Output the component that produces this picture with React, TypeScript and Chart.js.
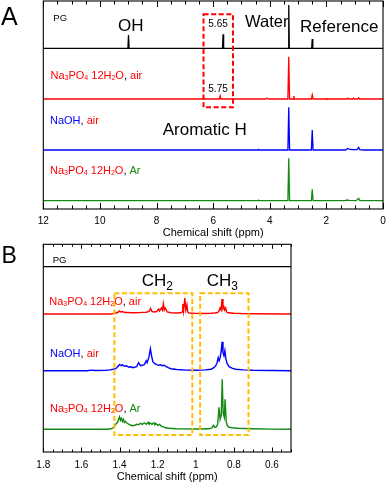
import React, { useEffect, useRef } from "react";
import { Chart, registerables } from "chart.js";
Chart.register(...registerables);

type Pt = [number, number];

// ---------- Panel A data (ppm, intensity) ----------
const ticksA = [12, 10, 8, 6, 4, 2, 0];
const offsetsA = [160.7, 110, 59, 8.3]; // PG, Na3PO4 air, NaOH air, Na3PO4 Ar
const pgA: Pt[] = [[12, 0], [9.01, 0], [8.99, 13.3], [8.97, 0], [5.67, 0], [5.65, 14], [5.63, 0], [3.35, 0], [3.33, 43.3], [3.31, 0], [2.52, 0], [2.5, 9.3], [2.48, 0], [0, 0]];
const redA: Pt[] = [[12, 0], [5.78, 0], [5.75, 3], [5.72, 0], [4.15, 0], [4.1, 0.8], [4.05, 0], [3.36, 0], [3.33, 42.3], [3.3, 0], [3.17, 0], [3.15, 3], [3.13, 0], [2.53, 0], [2.5, 4], [2.47, 0], [2.02, 0], [2.0, 0.5], [1.98, 0], [1.28, 0], [1.25, 0.9], [1.22, 0], [1.08, 0], [1.05, 0.9], [1.02, 0], [0.89, 0], [0.86, 1.1], [0.83, 0], [0, 0]];
const blueA: Pt[] = [[12, 0], [4.42, 0], [4.4, 0.6], [4.38, 0], [3.36, 0], [3.33, 42.7], [3.3, 0], [2.53, 0], [2.5, 20], [2.47, 0], [1.32, 0], [1.25, 1.5], [1.2, 0.8], [1.1, 0.3], [0.92, 0.4], [0.86, 2.5], [0.82, 0.3], [0.7, 0], [0, 0]];
const greenA: Pt[] = [[12, 0], [4.42, 0], [4.4, 0.5], [4.38, 0], [3.36, 0], [3.33, 42.4], [3.3, 0], [2.53, 0], [2.5, 11.4], [2.47, 0], [1.35, 0], [1.25, 0.7], [1.2, 0.4], [0.95, 0], [0.86, 2.4], [0.82, 0], [0, 0]];
const redBoxA: Pt[] = [[6.34, 194.7], [5.3, 101.7]];

// ---------- Panel B data ----------
const ticksB = [1.8, 1.6, 1.4, 1.2, 1.0, 0.8, 0.6];
const offsetsB = [185.3, 138, 81.3, 22.7];
const pgB: Pt[] = [[1.8, 0], [0.5, 0]];
const redB: Pt[] = [[1.8, 0], [1.45, 0], [1.43, 0.5], [1.41, 1.5], [1.4, 3], [1.395, 2], [1.39, 2.5], [1.38, 2], [1.37, 1.5], [1.36, 1.6], [1.34, 1.2], [1.32, 1.3], [1.3, 1.4], [1.28, 1.6], [1.26, 1.8], [1.245, 2.5], [1.237, 5.5], [1.23, 2.5], [1.22, 2], [1.205, 2.5], [1.195, 5], [1.19, 3], [1.18, 6], [1.175, 4], [1.17, 10.5], [1.165, 4], [1.16, 6], [1.15, 2], [1.13, 1.2], [1.1, 1], [1.08, 1.2], [1.072, 2], [1.068, 10], [1.064, 3], [1.057, 16], [1.052, 4], [1.046, 9], [1.042, 2], [1.035, 1], [1.0, 0.6], [0.95, 0.5], [0.92, 0.7], [0.9, 1], [0.885, 1.5], [0.878, 3], [0.872, 6], [0.867, 4], [0.862, 15], [0.857, 5], [0.852, 7], [0.848, 4], [0.843, 6], [0.838, 2], [0.83, 1.2], [0.8, 0.7], [0.75, 0.4], [0.7, 0.2], [0.5, 0]];
const blueB: Pt[] = [[1.8, 0], [1.57, 0], [1.55, 0.6], [1.53, 0.2], [1.47, 0.4], [1.45, 0.8], [1.42, 2], [1.41, 4], [1.4, 6], [1.39, 5], [1.385, 6], [1.375, 4.5], [1.365, 5], [1.35, 3.5], [1.34, 4], [1.33, 3], [1.31, 4], [1.3, 8], [1.29, 5], [1.28, 5.5], [1.27, 6], [1.26, 10], [1.255, 8], [1.245, 14], [1.238, 22], [1.232, 15], [1.225, 9], [1.215, 7], [1.205, 6], [1.195, 5.5], [1.185, 6], [1.175, 5], [1.165, 5.5], [1.155, 4], [1.145, 3], [1.13, 2], [1.1, 1.2], [1.05, 0.6], [1.0, 0.4], [0.95, 0.8], [0.92, 1.5], [0.905, 3], [0.895, 5], [0.888, 8], [0.882, 13], [0.877, 10], [0.872, 13], [0.866, 20], [0.862, 29], [0.857, 18], [0.852, 15], [0.847, 20], [0.842, 12], [0.835, 7], [0.825, 4], [0.81, 2.5], [0.79, 1.5], [0.75, 0.8], [0.7, 0.4], [0.6, 0.2], [0.5, 0]];
const greenB: Pt[] = [[1.8, 0], [1.46, 0], [1.44, 0.8], [1.43, 2], [1.42, 5], [1.41, 7], [1.4, 12.5], [1.395, 9], [1.39, 11], [1.385, 8], [1.38, 10], [1.375, 7], [1.37, 8], [1.36, 6], [1.35, 5], [1.34, 4], [1.33, 3.5], [1.32, 4], [1.31, 5], [1.3, 4.5], [1.29, 6], [1.28, 5], [1.27, 6.5], [1.26, 5], [1.25, 7], [1.245, 5], [1.24, 6.5], [1.23, 5], [1.22, 6.5], [1.215, 4.5], [1.21, 6], [1.2, 4], [1.19, 5], [1.18, 3], [1.17, 2.5], [1.16, 1.5], [1.14, 1], [1.1, 0.5], [1.0, 0.3], [0.93, 0.5], [0.915, 1.5], [0.907, 4], [0.9, 2], [0.892, 2.5], [0.885, 5], [0.878, 22], [0.872, 10], [0.866, 14], [0.861, 50], [0.856, 16], [0.85, 12], [0.846, 30], [0.84, 8], [0.835, 4], [0.825, 2], [0.81, 1.5], [0.78, 1], [0.7, 0.5], [0.6, 0.2], [0.5, 0]];
const orangeBoxesB: Pt[][] = [[[1.427, 158.7], [1.018, 17]], [[0.977, 158.7], [0.723, 17]]];

const FONT = "'Liberation Sans', Arial, Helvetica, sans-serif";
const RED = "#ff0000";
const BLUE = "#0000ff";
const GREEN = "#138a13";
const BLACK = "#000000";
const ORANGE = "#ffbf00";

type Seg = { t: string; c: string; sub?: boolean };
type Label = { x: number; y: number; size: number; segs: Seg[]; subSize?: number; subDy?: number };

const naSegs = (tail: string, tailColor: string): Seg[] => [
  { t: "Na", c: RED }, { t: "3", c: RED, sub: true }, { t: "PO", c: RED }, { t: "4", c: RED, sub: true },
  { t: " 12H", c: RED }, { t: "2", c: RED, sub: true }, { t: "O", c: RED }, { t: ", ", c: BLACK }, { t: tail, c: tailColor },
];
const naohSegs: Seg[] = [{ t: "NaOH", c: BLUE }, { t: ", ", c: BLACK }, { t: "air", c: RED }];

const labelsA: Label[] = [
  { x: 1, y: 25, size: 25, segs: [{ t: "A", c: BLACK }] },
  { x: 53.3, y: 20.7, size: 9.5, segs: [{ t: "PG", c: BLACK }] },
  { x: 118, y: 30.7, size: 17, segs: [{ t: "OH", c: BLACK }] },
  { x: 208.3, y: 27.3, size: 10, segs: [{ t: "5.65", c: BLACK }] },
  { x: 245, y: 26.7, size: 16.5, segs: [{ t: "Water", c: BLACK }] },
  { x: 300, y: 31.7, size: 17, segs: [{ t: "Reference", c: BLACK }] },
  { x: 208.3, y: 92.3, size: 10, segs: [{ t: "5.75", c: BLACK }] },
  { x: 50.5, y: 79.3, size: 11, segs: naSegs("air", RED), subSize: 7, subDy: 1 },
  { x: 50, y: 124, size: 11, segs: naohSegs },
  { x: 162.7, y: 135, size: 17, segs: [{ t: "Aromatic H", c: BLACK }] },
  { x: 50, y: 174, size: 11, segs: naSegs("Ar", GREEN), subSize: 7, subDy: 1 },
];
const labelsB: Label[] = [
  { x: 1.5, y: 21.3, size: 23, segs: [{ t: "B", c: BLACK }] },
  { x: 52.7, y: 21.3, size: 9.5, segs: [{ t: "PG", c: BLACK }] },
  { x: 141.7, y: 43.5, size: 17, segs: [{ t: "CH", c: BLACK }, { t: "2", c: BLACK, sub: true }], subSize: 12, subDy: 4 },
  { x: 206.7, y: 43.5, size: 17, segs: [{ t: "CH", c: BLACK }, { t: "3", c: BLACK, sub: true }], subSize: 12, subDy: 4 },
  { x: 49.3, y: 63, size: 11, segs: naSegs("air", RED), subSize: 7, subDy: 1 },
  { x: 50, y: 114.7, size: 11, segs: naohSegs },
  { x: 50, y: 169.7, size: 11, segs: naSegs("Ar", GREEN), subSize: 7, subDy: 1 },
];

function drawLabels(ctx: CanvasRenderingContext2D, labels: Label[]) {
  ctx.save();
  ctx.textBaseline = "alphabetic";
  ctx.textAlign = "left";
  for (const l of labels) {
    let x = l.x;
    for (const s of l.segs) {
      const size = s.sub ? (l.subSize || l.size * 0.65) : l.size;
      ctx.font = `${size}px ${FONT}`;
      ctx.fillStyle = s.c;
      ctx.fillText(s.t, x, l.y + (s.sub ? (l.subDy || 0) : 0));
      x += ctx.measureText(s.t).width;
    }
  }
  ctx.restore();
}

function makeFramePlugin(minorStep: number, lo: number, hi: number, majors: number[], majLen: number, minLen: number, boxes: { pts: Pt[]; color: string }[], labels: Label[]) {
  return {
    id: "frame",
    afterDatasetsDraw(chart: any) {
      drawLabels(chart.ctx, labels);
    },
    afterDraw(chart: any) {
      const ctx: CanvasRenderingContext2D = chart.ctx;
      const { left, right, top, bottom } = chart.chartArea;
      const xs = chart.scales.x;
      const ys = chart.scales.y;
      ctx.save();
      for (const b of boxes) {
        const x1 = xs.getPixelForValue(b.pts[0][0]);
        const x2 = xs.getPixelForValue(b.pts[1][0]);
        const y1 = ys.getPixelForValue(b.pts[0][1]);
        const y2 = ys.getPixelForValue(b.pts[1][1]);
        ctx.strokeStyle = b.color;
        ctx.lineWidth = 2;
        ctx.setLineDash([5, 2.6]);
        ctx.strokeRect(Math.min(x1, x2), Math.min(y1, y2), Math.abs(x2 - x1), Math.abs(y2 - y1));
      }
      ctx.setLineDash([]);
      ctx.strokeStyle = BLACK;
      ctx.lineWidth = 1.1;
      ctx.strokeRect(left, top, right - left, bottom - top);
      ctx.lineWidth = 1;
      ctx.beginPath();
      const n = Math.round((hi - lo) / minorStep);
      for (let i = 0; i <= n; i++) {
        const v = lo + i * minorStep;
        const isMaj = majors.some((m) => Math.abs(m - v) < minorStep / 10);
        const len = isMaj ? majLen : minLen;
        const px = Math.round(xs.getPixelForValue(v)) + 0.5;
        ctx.moveTo(px, bottom);
        ctx.lineTo(px, bottom - len);
        ctx.moveTo(px, top);
        ctx.lineTo(px, top + len);
      }
      ctx.stroke();
      ctx.restore();
    },
  };
}

function ds(pts: Pt[], off: number, color: string, width: number) {
  return {
    data: pts.map(([x, y]) => ({ x, y: y + off })),
    showLine: true,
    borderColor: color,
    backgroundColor: color,
    borderWidth: width,
    pointRadius: 0,
    tension: 0,
    fill: false,
  };
}

function xScale(min: number, max: number, ticks: number[], padTop: number, titlePadBottom: number, axisHeight: number) {
  return {
    type: "linear",
    reverse: true,
    min,
    max,
    grid: { display: false, drawTicks: false, tickLength: 0 },
    border: { display: false },
    afterBuildTicks: (s: any) => {
      s.ticks = ticks.map((v) => ({ value: v }));
    },
    afterFit: (s: any) => {
      s.height = axisHeight;
    },
    ticks: {
      font: { family: FONT, size: 10 },
      color: BLACK,
      padding: padTop,
      maxRotation: 0,
      autoSkip: false,
      callback: (v: any) => String(Math.round(Number(v) * 10) / 10),
    },
    title: {
      display: true,
      text: "Chemical shift (ppm)",
      font: { family: FONT, size: 11 },
      color: BLACK,
      padding: { top: 0, bottom: titlePadBottom },
    },
  };
}

export default function App() {
  const refA = useRef<HTMLCanvasElement>(null);
  const refB = useRef<HTMLCanvasElement>(null);

  useEffect(() => {
    const cA = new Chart(refA.current as HTMLCanvasElement, {
      type: "scatter",
      data: {
        datasets: [
          ds(pgA, offsetsA[0], BLACK, 1.3),
          ds(redA, offsetsA[1], RED, 1.3),
          ds(blueA, offsetsA[2], BLUE, 1.3),
          ds(greenA, offsetsA[3], GREEN, 1.3),
        ] as any,
      },
      options: {
        responsive: false,
        animation: false,
        events: [],
        layout: { padding: { left: 43.3, right: 4.3, top: 1, bottom: 0 } },
        plugins: { legend: { display: false }, tooltip: { enabled: false } },
        scales: {
          x: xScale(0, 12, ticksA, 6.2, 2.7, 33) as any,
          y: { display: false, min: 0, max: 208 },
        },
      },
      plugins: [makeFramePlugin(0.5, 0, 12, ticksA, 6, 3.5, [{ pts: redBoxA, color: RED }], labelsA)],
    });
    const cB = new Chart(refB.current as HTMLCanvasElement, {
      type: "scatter",
      data: {
        datasets: [
          ds(pgB, offsetsB[0], BLACK, 1.3),
          ds(redB, offsetsB[1], RED, 1.4),
          ds(blueB, offsetsB[2], BLUE, 1.4),
          ds(greenB, offsetsB[3], GREEN, 1.4),
        ] as any,
      },
      options: {
        responsive: false,
        animation: false,
        events: [],
        layout: { padding: { left: 43.3, right: 101, top: 2.3, bottom: 0 } },
        plugins: { legend: { display: false }, tooltip: { enabled: false } },
        scales: {
          x: xScale(0.5, 1.8, ticksB, 7.5, 1.4, 33) as any,
          y: { display: false, min: 0, max: 207.7 },
        },
      },
      plugins: [
        makeFramePlugin(0.05, 0.5, 1.8, ticksB, 4.5, 2.5, orangeBoxesB.map((p) => ({ pts: p, color: ORANGE })), labelsB),
      ],
    });
    return () => {
      cA.destroy();
      cB.destroy();
    };
  }, []);

  return (
    <div style={{ position: "absolute", left: 0, top: 0, width: 392, height: 485, background: "#fff" }}>
      <canvas ref={refA} width={392} height={242} style={{ position: "absolute", left: 0, top: 0, width: 392, height: 242 }} />
      <canvas ref={refB} width={392} height={243} style={{ position: "absolute", left: 0, top: 242, width: 392, height: 243 }} />
    </div>
  );
}
